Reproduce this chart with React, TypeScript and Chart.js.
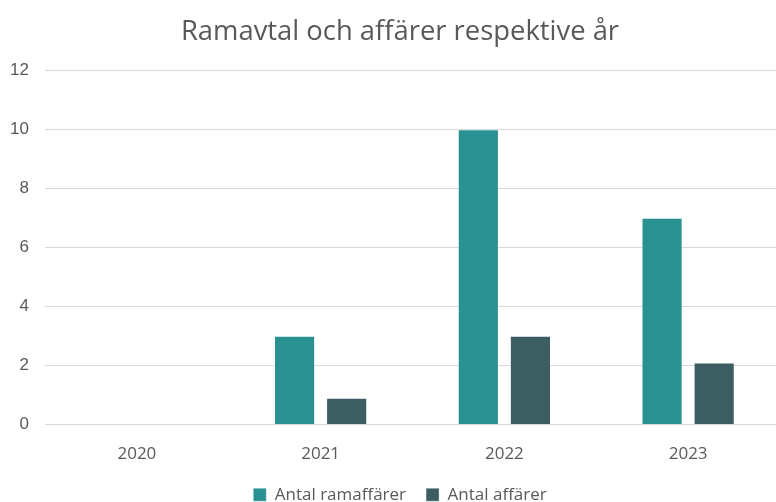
import React, { useEffect, useRef } from "react";
import { Chart, registerables } from "chart.js";

Chart.register(...registerables);

const years = ["2020", "2021", "2022", "2023"];
const ramaffarer = [0, 3, 10, 7];
const affarer = [0, 0.9, 3, 2.1];
const yTicks = [0, 2, 4, 6, 8, 10, 12];

const TEXT = "#595959";

const recenter = {
  id: "recenter",
  afterLayout(chart: any) {
    if (chart.titleBlock) chart.titleBlock.left = 20;
    if (chart.legend) chart.legend.left = 20;
  },
};

export default function App() {
  const ref = useRef<HTMLCanvasElement | null>(null);
  useEffect(() => {
    if (!ref.current) return;
    const chart = new Chart(ref.current, {
      type: "bar",
      data: {
        labels: years,
        datasets: [
          {
            label: "Antal ramaffärer",
            data: ramaffarer,
            backgroundColor: "#2A9193",
            borderColor: "rgba(255,255,255,0.35)",
            borderWidth: 1,
            barPercentage: 0.79,
            categoryPercentage: 0.567,
          },
          {
            label: "Antal affärer",
            data: affarer,
            backgroundColor: "#3C5E63",
            borderColor: "rgba(255,255,255,0.35)",
            borderWidth: 1,
            barPercentage: 0.79,
            categoryPercentage: 0.567,
          },
        ],
      },
      plugins: [recenter],
      options: {
        animation: false,
        responsive: false,
        maintainAspectRatio: false,
        layout: { padding: { left: 0, right: 20, top: 10, bottom: -11.2 } },
        plugins: {
          title: {
            display: true,
            text: "Ramavtal och affärer respektive år",
            color: TEXT,
            font: { family: "Open Sans", size: 27.4, weight: "normal" },
            padding: { top: 6, bottom: 21.2 },
          },
          legend: {
            position: "bottom",
            labels: {
              color: TEXT,
              font: { family: "Open Sans", size: 17 },
              boxWidth: 13,
              boxHeight: 13,
              padding: 20,
            },
          },
          tooltip: { enabled: false },
        },
        scales: {
          x: {
            grid: { display: false, drawTicks: false },
            border: { display: true, color: "#D9D9D9" },
            ticks: {
              color: TEXT,
              font: { family: "Open Sans", size: 17 },
              padding: 19.5,
            },
            afterFit: (axis: any) => {
              axis.height = 41.8;
            },
          },
          y: {
            min: 0,
            max: 12,
            afterBuildTicks: (axis: any) => {
              axis.ticks = yTicks.map((v) => ({ value: v }));
            },
            afterFit: (axis: any) => {
              axis.width = 45;
            },
            grid: { color: "#D9D9D9", drawTicks: false },
            border: { display: false },
            ticks: {
              color: TEXT,
              font: { family: "Liberation Sans", size: 17 },
              padding: 16,
            },
          },
        },
      },
    });
    return () => chart.destroy();
  }, []);
  return (
    <div
      style={{
        position: "fixed",
        left: 0,
        top: 0,
        width: 776,
        height: 502,
        overflow: "hidden",
        background: "#fff",
      }}
    >
      <canvas ref={ref} width={800} height={502} style={{ display: "block" }} />
    </div>
  );
}
